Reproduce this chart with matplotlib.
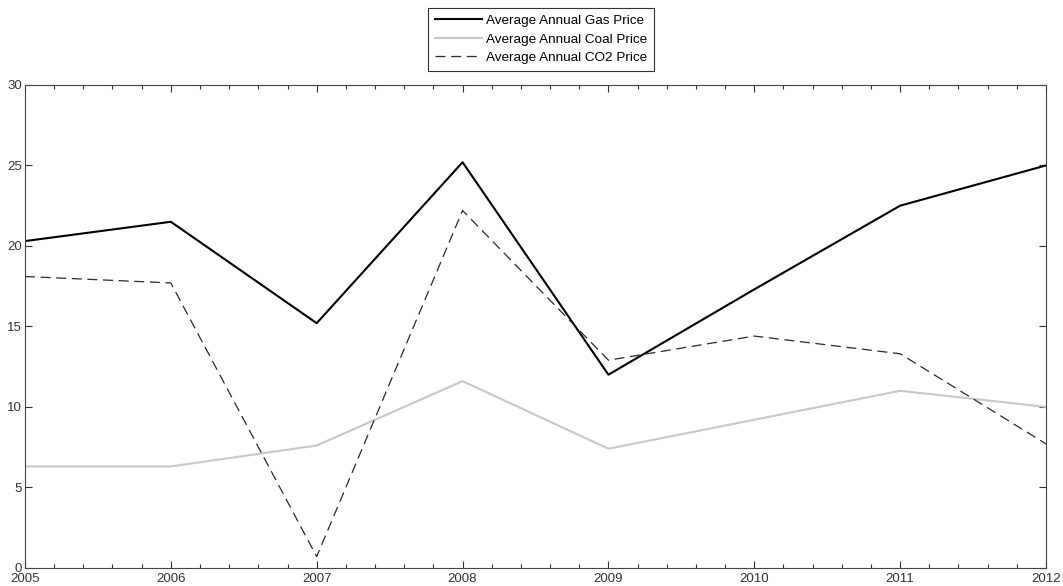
"""Average annual gas, coal and CO2 prices, 2005-2012 (MATLAB-style line chart)."""

import matplotlib
matplotlib.use("Agg")
import matplotlib.pyplot as plt
from matplotlib.ticker import MultipleLocator

plt.rcParams["font.family"] = ["Liberation Sans", "DejaVu Sans"]

# ---------------------------------------------------------------------------
# Data
# ---------------------------------------------------------------------------
years = [2005, 2006, 2007, 2008, 2009, 2010, 2011, 2012]
gas_price = [20.3, 21.5, 15.2, 25.2, 12.0, 17.3, 22.5, 25.0]
coal_price = [6.3, 6.3, 7.6, 11.6, 7.4, 9.2, 11.0, 10.0]
co2_price = [18.1, 17.7, 0.7, 22.2, 12.9, 14.4, 13.3, 7.7]

series_labels = [
    "Average Annual Gas Price",
    "Average Annual Coal Price",
    "Average Annual CO2 Price",
]
y_ticks = [0, 5, 10, 15, 20, 25, 30]

# ---------------------------------------------------------------------------
# Plot
# ---------------------------------------------------------------------------
fig = plt.figure(figsize=(10.63, 5.86), dpi=100)
ax = fig.add_axes([0.0235, 0.031, 0.9605, 0.824])

ax.plot(years, gas_price, color="black", lw=1.5, label=series_labels[0])
ax.plot(years, coal_price, color="#c8c8c8", lw=1.5, label=series_labels[1])
ax.plot(years, co2_price, color="#2a2a2a", lw=0.9, ls=(0, (8, 4.5)),
        label=series_labels[2])

ax.set_xlim(years[0], years[-1])
ax.set_ylim(y_ticks[0], y_ticks[-1])
ax.set_xticks(years)
ax.set_yticks(y_ticks)
ax.xaxis.set_minor_locator(MultipleLocator(0.2))

ax.tick_params(which="both", direction="in", top=True, right=True,
               labelsize=9.5, colors="#333333", width=0.8)
ax.tick_params(which="major", length=5)
ax.tick_params(axis="x", which="major", pad=4)
ax.tick_params(axis="y", which="major", pad=2)
ax.tick_params(which="minor", length=3)
ax.tick_params(axis="y", which="minor", left=False, right=False)
for spine in ax.spines.values():
    spine.set_color("#444444")
    spine.set_linewidth(0.8)

leg = fig.legend(loc="upper center", bbox_to_anchor=(0.509, 0.998),
                 fontsize=9.7, handlelength=3.5, handletextpad=0.35,
                 labelspacing=0.45, borderpad=0.5, fancybox=False,
                 framealpha=1, edgecolor="#333333")
leg.get_frame().set_linewidth(0.8)

fig.savefig("out.png", dpi=100)
